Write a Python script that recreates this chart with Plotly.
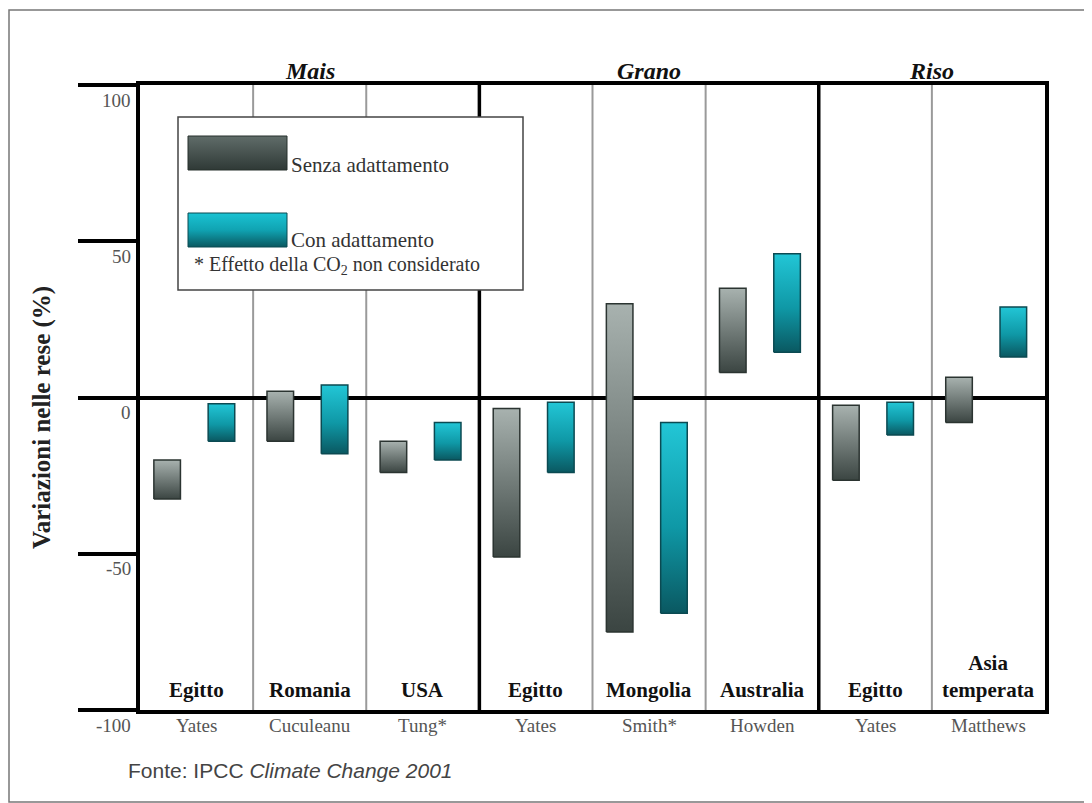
import plotly.graph_objects as go

# ---------------- data ----------------
countries = ["Egitto", "Romania", "USA", "Egitto", "Mongolia", "Australia", "Egitto", "Asia<br>temperata"]
authors = ["Yates", "Cuculeanu", "Tung*", "Yates", "Smith*", "Howden", "Yates", "Matthews"]
crops = ["Mais", "Grano", "Riso"]
crop_first_col = [0, 3, 6]
crop_n_cols = [3, 3, 2]
# yield change ranges (%)
senza_top = [-20, 2, -14, -3.5, 30, 35, -2.5, 6.5]
senza_bottom = [-32.5, -14, -24, -51, -75, 8, -26.5, -8]
con_top = [-2, 4, -8, -1.5, -8, 46, -1.5, 29]
con_bottom = [-14, -18, -20, -24, -69, 14.5, -12, 13]
y_ticks = [100, 50, 0, -50, -100]
y_tick_labels = ["100", "50", "0", "-50", "-100"]
legend_labels = ["Senza adattamento", "Con adattamento"]
legend_note = "* Effetto della CO<sub>2</sub> non considerato"
y_title = "Variazioni nelle rese (%)"
source = "Fonte: IPCC <i>Climate Change 2001</i>"

# ---------------- style / geometry (page pixels) ----------------
PAGE_W, PAGE_H = 1092, 803
OFF = 8                       # default body margin of the html page
W, H = PAGE_W - OFF, PAGE_H - OFF
L, R, T, B = 140, 1045, 85, 710
SERIF = "Liberation Serif, Times New Roman, serif"
SANS = "Liberation Sans, Arial, sans-serif"
GREY_SCALE = [[0, "#3b4542"], [1, "#a8b2af"]]
CYAN_SCALE = [[0, "#0a5861"], [0.45, "#0f98a6"], [1, "#22c6d6"]]
GREY_SW = [[0, "#2f3936"], [1, "#606c69"]]
CYAN_SW = [[0, "#0a5860"], [0.5, "#10a3b2"], [1, "#1ac3d3"]]
OFF_SENZA, OFF_CON, BAR_W = 0.24, 0.72, 0.235
n = len(countries)
Y_MIN, Y_MAX = -100, 100


def px_x(p):
    return (p - L) / (R - L)


def px_y(p):
    return (B - p) / (B - T)


def dx(p):  # page pixel -> x data
    return px_x(p) * n


def dy(p):  # page pixel -> y data
    return Y_MIN + px_y(p) * (Y_MAX - Y_MIN)


fig = go.Figure()


def add_rect(x0, x1, lo, hi, scale, edge, lw):
    fig.add_trace(go.Scatter(
        x=[x0, x1, x1, x0, x0], y=[lo, lo, hi, hi, lo],
        mode="lines", fill="toself",
        fillgradient=dict(type="vertical", colorscale=scale),
        line=dict(color=edge, width=lw),
        showlegend=False, hoverinfo="skip"))


for i in range(n):
    c1, c2 = i + OFF_SENZA, i + OFF_CON
    add_rect(c1 - BAR_W / 2, c1 + BAR_W / 2, senza_bottom[i], senza_top[i], GREY_SCALE, "#2b3431", 1.5)
    add_rect(c2 - BAR_W / 2, c2 + BAR_W / 2, con_bottom[i], con_top[i], CYAN_SCALE, "#0b4a52", 1.5)

# legend swatches
add_rect(dx(188), dx(287), dy(170), dy(136), GREY_SW, "#27302d", 1)
add_rect(dx(188), dx(287), dy(247), dy(213), CYAN_SW, "#0a4a52", 1)

shapes = []
thick = set(crop_first_col[1:])
for k in range(1, n):
    if k in thick:
        line = dict(color="black", width=3.5)
    else:
        line = dict(color="#9a9a9a", width=2)
    shapes.append(dict(type="line", xref="x", yref="paper", x0=k, x1=k, y0=0, y1=1,
                       line=line, layer="between"))
# legend box
shapes.append(dict(type="rect", xref="x", yref="y", x0=dx(178), x1=dx(523), y0=dy(290), y1=dy(117),
                   line=dict(color="#444444", width=1.5), fillcolor="white", layer="between"))
# outer frame
shapes.append(dict(type="rect", xref="paper", yref="paper", x0=px_x(9), x1=px_x(1087),
                   y0=px_y(802), y1=px_y(10), line=dict(color="#777777", width=1.5),
                   fillcolor="rgba(0,0,0,0)", layer="below"))

ann = []
for v, t in zip(y_ticks, y_tick_labels):
    ann.append(dict(text=t, xref="paper", yref="y", x=px_x(133), y=v, yshift=-15,
                    xanchor="right", yanchor="middle", showarrow=False,
                    font=dict(family=SERIF, size=19, color="#555555")))
ann.append(dict(text="<b>" + y_title + "</b>", xref="paper", yref="paper", x=px_x(42), y=px_y(418),
                textangle=-90, showarrow=False, xanchor="center", yanchor="middle",
                font=dict(family=SERIF, size=25, color="#222222")))
for c, f, m in zip(crops, crop_first_col, crop_n_cols):
    ann.append(dict(text="<b><i>" + c + "</i></b>", xref="x", yref="paper", x=f + m / 2, y=px_y(71),
                    showarrow=False, xanchor="center", yanchor="middle",
                    font=dict(family=SERIF, size=24, color="#111111")))
for i, (c, a) in enumerate(zip(countries, authors)):
    ann.append(dict(text="<b>" + c + "</b>", xref="x", yref="paper", x=i + 0.5, y=px_y(704),
                    showarrow=False, xanchor="center", yanchor="bottom",
                    font=dict(family=SERIF, size=21, color="#111111")))
    ann.append(dict(text=a, xref="x", yref="paper", x=i + 0.5, y=px_y(725),
                    showarrow=False, xanchor="center", yanchor="middle",
                    font=dict(family=SERIF, size=19, color="#555555")))
# legend texts
ann.append(dict(text=legend_labels[0], xref="paper", yref="paper", x=px_x(289), y=px_y(165),
                showarrow=False, xanchor="left", yanchor="middle",
                font=dict(family=SERIF, size=21, color="#333333")))
ann.append(dict(text=legend_labels[1], xref="paper", yref="paper", x=px_x(289), y=px_y(240),
                showarrow=False, xanchor="left", yanchor="middle",
                font=dict(family=SERIF, size=21, color="#333333")))
ann.append(dict(text=legend_note, xref="paper", yref="paper", x=px_x(192), y=px_y(265),
                showarrow=False, xanchor="left", yanchor="middle",
                font=dict(family=SERIF, size=20, color="#333333")))
ann.append(dict(text=source, xref="paper", yref="paper", x=px_x(126), y=px_y(770),
                showarrow=False, xanchor="left", yanchor="middle",
                font=dict(family=SANS, size=21, color="#444444")))

fig.update_layout(
    width=W, height=H, autosize=False,
    margin=dict(l=L - OFF, r=W - (R - OFF), t=T - OFF, b=H - (B - OFF), pad=0),
    paper_bgcolor="white", plot_bgcolor="white",
    showlegend=False, hovermode=False,
    xaxis=dict(range=[0, n], showgrid=False, zeroline=False, showticklabels=False, ticks="",
               showline=True, linewidth=3.5, linecolor="black", mirror=True, fixedrange=True),
    yaxis=dict(range=[Y_MIN, Y_MAX], tickvals=y_ticks, showticklabels=False, ticks="outside",
               ticklen=58, tickwidth=3.5, tickcolor="black", showgrid=False,
               zeroline=True, zerolinewidth=3.5, zerolinecolor="black",
               showline=True, linewidth=3.5, linecolor="black", mirror=True, fixedrange=True),
    shapes=shapes, annotations=ann,
)

fig.write_html("out.html")
